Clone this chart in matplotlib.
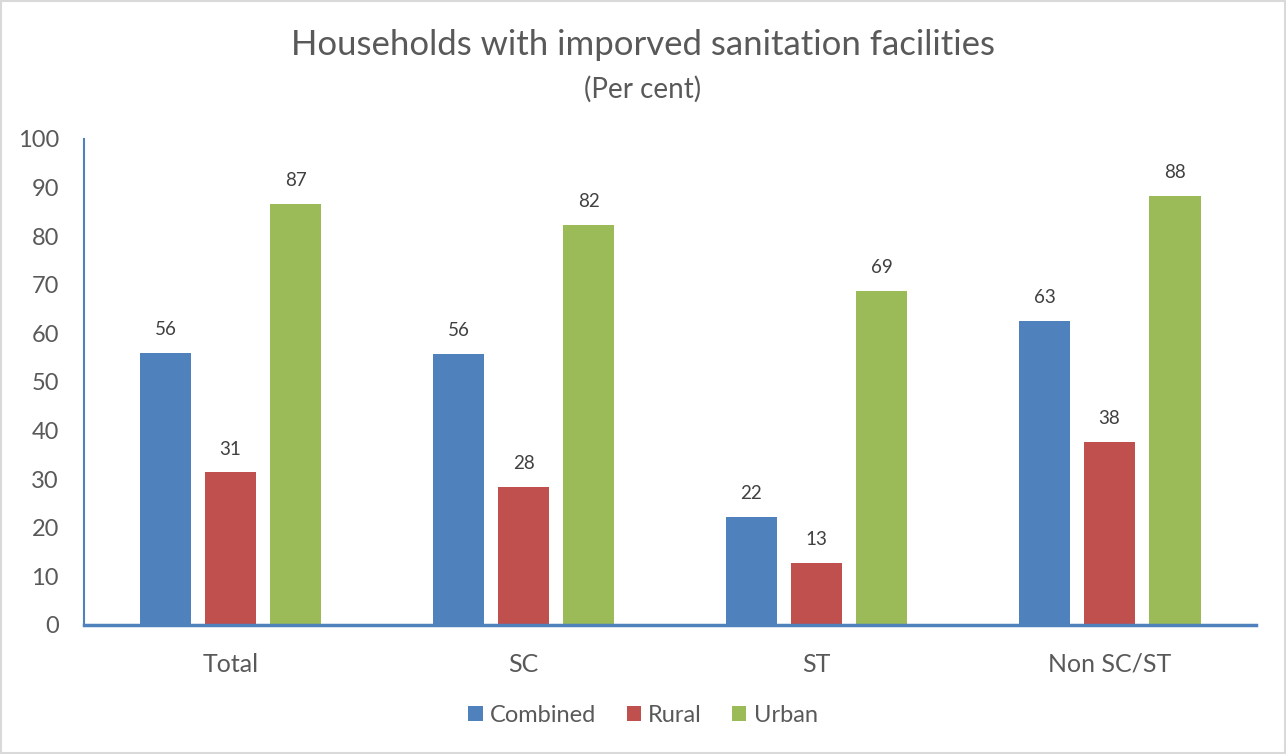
import numpy as np
import matplotlib.pyplot as plt
from matplotlib.patches import Rectangle

# Households with improved sanitation, per cent
groups = ['Total', 'SC', 'ST', 'Non SC/ST']
combined = [56.0, 55.8, 22.2, 62.6]
rural = [31.4, 28.4, 12.8, 37.7]
urban = [86.6, 82.3, 68.7, 88.3]
series_names = ['Combined', 'Rural', 'Urban']

colors = ['#4F81BD', '#C0504D', '#9BBB59']
text_col = '#595959'

plt.rcParams['font.family'] = ['Lato', 'DejaVu Sans']

fig = plt.figure(figsize=(12.86, 7.54), dpi=100)
fig.patches.append(Rectangle((0.001, 0.001), 0.998, 0.998, transform=fig.transFigure,
                             fill=False, edgecolor='#d9d9d9', linewidth=1.5))
ax = fig.add_axes([0.0653, 0.1711, 0.9114, 0.6446])

x = np.arange(len(groups))
width = 0.177
step = 0.222
for i, (vals, name) in enumerate(zip([combined, rural, urban], series_names)):
    pos = x + (i - 1) * step
    bars = ax.bar(pos, vals, width, color=colors[i], label=name, zorder=2)
    for b, v in zip(bars, vals):
        ax.text(b.get_x() + b.get_width() / 2, v + 4.8, f'{v:.0f}',
                ha='center', va='center', fontsize=13.5, color='#404040')

ax.set_xlim(-0.5, len(groups) - 0.5)
ax.set_ylim(0, 100)
ax.set_yticks(range(0, 101, 10))
ax.set_xticks(x)
ax.set_xticklabels(groups)
ax.tick_params(axis='y', length=0, labelsize=17, colors=text_col, pad=18)
ax.tick_params(axis='x', length=0, labelsize=18, colors=text_col, pad=20)

for s in ['top', 'right']:
    ax.spines[s].set_visible(False)
ax.spines['left'].set_color('#4F81BD')
ax.spines['left'].set_linewidth(1.5)
ax.spines['bottom'].set_color('#4F81BD')
ax.spines['bottom'].set_linewidth(2.5)

fig.text(0.5, 0.94, 'Households with imporved sanitation facilities',
         ha='center', va='center', fontsize=25, color=text_col)
fig.text(0.5, 0.882, '(Per cent)', ha='center', va='center', fontsize=20, color=text_col)

fig.legend(loc='center', bbox_to_anchor=(0.5, 0.051), ncol=3, frameon=False,
           fontsize=17, handlelength=0.6, handleheight=0.6, columnspacing=1.3,
           handletextpad=0.3, labelcolor=text_col)

fig.savefig('out.png', dpi=100)
